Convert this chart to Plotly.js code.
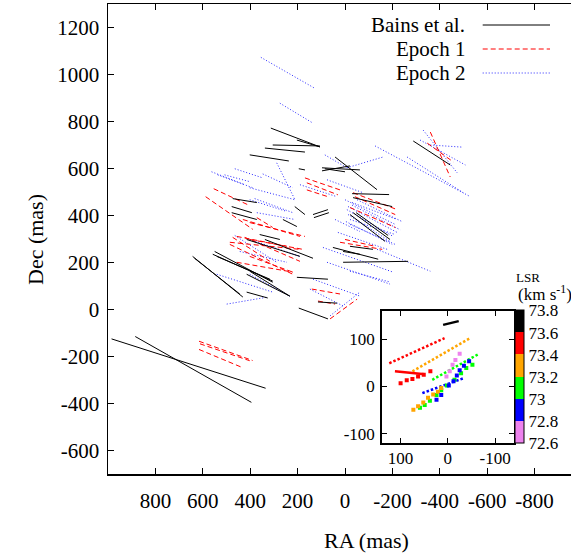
<!DOCTYPE html>
<html><head><meta charset="utf-8">
<script src="https://cdn.plot.ly/plotly-3.0.1.min.js"></script>
<style>html,body{margin:0;padding:0;overflow:hidden;background:#fff}#c{width:584px;height:554px}</style>
</head><body><div id="c"></div>
<script>
// ---- Main panel: line segments (RA, Dec in mas) ----
const bainsX0 = [985,885,313,305,338,402,42,97,97,85,195,-30,-34,-288,135,131,212,262,-34,-47,-21,360,51,8,-21,203,402,195,114,338,474,478,478,415,550,558,541,643,635,415,415,8,203];
const bainsY0 = [-125,-115,772,700,687,658,649,603,590,599,599,493,476,717,404,391,438,383,412,412,404,319,264,201,269,137,163,6,32,298,472,438,412,298,247,235,226,226,218,150,74,247,721];
const bainsX1 = [335,395,106,106,169,237,-135,-63,-21,0,169,-186,-199,-444,72,68,169,203,-190,-182,-169,275,-140,-266,-118,72,233,72,34,135,372,393,372,190,305,305,317,431,444,233,326,-63,106];
const bainsY1 = [-335,-395,692,696,670,632,510,594,611,586,594,489,438,615,425,412,404,353,298,315,290,298,214,205,256,129,57,-40,27,218,455,412,383,226,116,121,129,53,66,57,49,235,692];

const ep1X0 = [616,616,612,554,588,431,486,457,486,457,169,161,161,-34,-42,-21,402,402,21,0,402,140,63,114,-360,-347,474,423,372];
const ep1Y0 = [-135,-170,-146,514,480,383,286,311,277,201,560,539,509,497,480,434,370,298,286,298,226,87,-40,36,755,708,307,307,391];
const ep1X1 = [390,433,402,402,389,190,190,245,220,220,21,30,72,-220,-212,-212,169,178,-157,-127,220,21,-51,42,-444,-457,317,190,305];
const ep1Y1 = [-217,-247,-218,442,341,311,256,269,150,159,509,488,480,425,404,349,311,256,256,269,159,66,44,23,564,628,205,205,349];

const ep2X0 = [355,275,85,-8,-127,-262,-330,-317,-360,402,288,76,190,-13,-8,-13,-21,-30,42,-135,93,76,135,63,402,372,537,508,465,347,381,465,444,541,499,402,148,30,-21,402,0,-21,-30,-4,-51,563];
const ep2Y0 = [1073,878,658,603,696,649,763,721,700,518,624,552,531,438,425,404,383,455,383,256,264,201,129,-27,467,412,573,573,599,577,472,315,247,150,23,150,87,328,163,298,467,362,444,374,467,586];
const ep2X1 = [127,135,-8,-161,-529,-499,-474,-508,-495,211,211,-76,34,-220,-203,-190,-212,-220,-63,-360,-203,-190,-63,-63,245,211,389,402,347,220,220,288,245,305,326,233,8,-178,-190,190,-212,-212,-233,-199,-241,423];
const ep2Y1 = [941,793,603,649,480,497,581,615,691,467,467,497,480,328,311,290,319,383,332,163,159,108,57,74,417,383,518,544,560,518,412,201,201,74,53,57,15,256,117,226,362,277,339,277,374,531];

// ---- Inset (RA, Dec in mas; V_LSR in km/s) ----
const rowX0 = [124,75,33,54];
const rowY0 = [49,32,14,-14];
const rowX1 = [7,-47,-66,-35];
const rowY1 = [102,102,69,18];
const rowV  = [73.5,73.3,73.1,72.9];

const solidX0 = [10,112];
const solidY0 = [130,32];
const solidX1 = [-23,49];
const solidY1 = [138,26];
const solidV  = [73.7,73.5];

const redSpotX = [100,87,75,63,51,37];
const redSpotY = [7,13,16,21,25,32];
const greenSpotX = [59,49,38,24,14,2,-14,-28,-39,-52];
const greenSpotY = [-45,-39,-30,-18,-8,2,14,28,39,46];
const orangeSpotX = [73,63,52,42,31,21,14];
const orangeSpotY = [-49,-42,-34,-24,-17,-11,-3];
const blueSpotX = [24,14,-2,-12,-19,-25,-34,-45];
const blueSpotY = [-28,-18,2,11,23,34,44,53];
const pinkSpotX = [3,-4,-10,-16,-25];
const pinkSpotY = [21,32,46,56,69];

const vTicks = [72.6,72.8,73.0,73.2,73.4,73.6,73.8];
const vTickText = ['72.6','72.8','73','73.2','73.4','73.6','73.8'];
const mainXTicks = [800,600,400,200,0,-200,-400,-600,-800];
const mainXText = ['800','600','400','200','0','-200','-400','-600','-800'];
const mainYTicks = [-600,-400,-200,0,200,400,600,800,1000,1200];
const mainYText = ['-600','-400','-200','0','200','400','600','800','1000','1200'];
const insetTicks = [-100,0,100];
const insetText = ['-100','0','100'];
const legendNames = ['Bains et al.','Epoch 1','Epoch 2'];

// ---- build ----
const FONT = 'Liberation Serif';
const bandColors = ['violet','blue','#00ff00','orange','red','black'];
const vmin = 72.6, vmax = 73.8;
const cs = [];
bandColors.forEach((c,i)=>{cs.push([i/6,c]);cs.push([(i+1)/6,c]);});
function vColor(v){let i=Math.floor((v-vmin)/(vmax-vmin)*6);i=Math.max(0,Math.min(5,i));return bandColors[i];}

function segs(x0,y0,x1,y1){const xs=[],ys=[];for(let i=0;i<x0.length;i++){xs.push(x0[i],x1[i],null);ys.push(y0[i],y1[i],null);}return {xs,ys};}

const traces = [];
const sb = segs(bainsX0,bainsY0,bainsX1,bainsY1);
const s1 = segs(ep1X0,ep1Y0,ep1X1,ep1Y1);
const s2 = segs(ep2X0,ep2Y0,ep2X1,ep2Y1);
traces.push({x:s2.xs,y:s2.ys,mode:'lines',line:{color:'rgb(40,40,255)',width:1,dash:'1px,2px'},hoverinfo:'skip'});
traces.push({x:s1.xs,y:s1.ys,mode:'lines',line:{color:'red',width:1,dash:'5px,3px'},hoverinfo:'skip'});
traces.push({x:sb.xs,y:sb.ys,mode:'lines',line:{color:'black',width:1},hoverinfo:'skip'});

for(let i=0;i<rowX0.length;i++){
  traces.push({x:[rowX0[i],rowX1[i]],y:[rowY0[i],rowY1[i]],xaxis:'x2',yaxis:'y2',mode:'lines',
    line:{color:vColor(rowV[i]),width:2.5,dash:'2.5px,2px'},hoverinfo:'skip'});
}
for(let i=0;i<solidX0.length;i++){
  traces.push({x:[solidX0[i],solidX1[i]],y:[solidY0[i],solidY1[i]],xaxis:'x2',yaxis:'y2',mode:'lines',
    line:{color:vColor(solidV[i]),width:2.5},hoverinfo:'skip'});
}
const spotGroups = [[redSpotX,redSpotY,73.5],[greenSpotX,greenSpotY,73.1],[orangeSpotX,orangeSpotY,73.3],[blueSpotX,blueSpotY,72.9],[pinkSpotX,pinkSpotY,72.7]];
const spX=[],spY=[],spV=[];
spotGroups.forEach(g=>{g[0].forEach((x,i)=>{spX.push(x);spY.push(g[1][i]);spV.push(g[2]);});});
traces.push({x:spX,y:spY,xaxis:'x2',yaxis:'y2',mode:'markers',hoverinfo:'skip',
  marker:{symbol:'square',size:4,color:spV,cmin:vmin,cmax:vmax,colorscale:cs,showscale:true,line:{width:0},
    colorbar:{x:0.8593,xanchor:'left',y:0.2064,yanchor:'middle',len:133,lenmode:'pixels',thickness:8.5,
      outlinewidth:1,outlinecolor:'black',xpad:0,ypad:0,ticks:'',tickvals:vTicks,ticktext:vTickText,
      tickfont:{family:FONT,size:17,color:'black'},ticklabelpad:2}}});

const W=474,H=470,L=108,T=4;
const px=(p)=>(p-L)/W, py=(p)=>(T+H-p)/H;
const legY=[25,49,73];
const legStyles=[{color:'black',width:1},{color:'red',width:1,dash:'5px,3px'},{color:'rgb(40,40,255)',width:1,dash:'1px,2px'}];
const shapes=[],annotations=[];
legendNames.forEach((n,i)=>{
  annotations.push({xref:'paper',yref:'paper',x:px(466.7),y:py(legY[i]),xanchor:'right',yanchor:'middle',text:n,showarrow:false,font:{family:FONT,size:21,color:'black'}});
  shapes.push({type:'line',xref:'paper',yref:'paper',x0:px(482.7),x1:px(550),y0:py(legY[i]),y1:py(legY[i]),line:legStyles[i]});
});
annotations.push({xref:'paper',yref:'paper',x:px(35),y:py(240),xanchor:'center',yanchor:'middle',text:'Dec (mas)',textangle:-90,showarrow:false,font:{family:FONT,size:22,color:'black'}});
annotations.push({xref:'paper',yref:'paper',x:px(366),y:py(540),xanchor:'center',yanchor:'middle',text:'RA (mas)',showarrow:false,font:{family:FONT,size:22,color:'black'}});
annotations.push({xref:'paper',yref:'paper',x:px(528),y:py(277),xanchor:'center',yanchor:'middle',text:'LSR',showarrow:false,font:{family:FONT,size:13,color:'black'}});
annotations.push({xref:'paper',yref:'paper',x:px(516),y:py(293),xanchor:'left',yanchor:'middle',text:'(km s<sup>-1</sup>)',showarrow:false,font:{family:FONT,size:17,color:'black'}});

const axBase = {showgrid:false,zeroline:false,showline:true,linecolor:'black',linewidth:1.5,mirror:'ticks',ticks:'inside',tickcolor:'black',tickwidth:1,
  tickfont:{family:FONT,size:21,color:'black'}};
const layout = {
  width:584,height:554,margin:{l:L,r:584-L-W,t:T,b:554-T-H},paper_bgcolor:'white',plot_bgcolor:'white',showlegend:false,
  font:{family:FONT,color:'black'},
  xaxis:Object.assign({},axBase,{range:[1000,-1000],tickvals:mainXTicks,ticktext:mainXText,ticklen:6,ticklabelstandoff:7,domain:[0,1],anchor:'y'}),
  yaxis:Object.assign({},axBase,{range:[-700,1300],tickvals:mainYTicks,ticktext:mainYText,ticklen:6,ticklabelstandoff:3,domain:[0,1],anchor:'x'}),
  xaxis2:Object.assign({},axBase,{range:[140,-140],tickvals:insetTicks,ticktext:insetText,ticklen:5,domain:[px(381.7),px(514)],anchor:'y2',tickfont:{family:FONT,size:17,color:'black'},ticklabelstandoff:-1}),
  yaxis2:Object.assign({},axBase,{range:[-120,160],tickvals:insetTicks,ticktext:insetText,ticklen:5,domain:[py(443.3),py(310.7)],anchor:'x2',tickfont:{family:FONT,size:17,color:'black'},ticklabelstandoff:2}),
  shapes:shapes,annotations:annotations
};
Plotly.newPlot('c',traces,layout,{staticPlot:true,displayModeBar:false});
</script></body></html>
